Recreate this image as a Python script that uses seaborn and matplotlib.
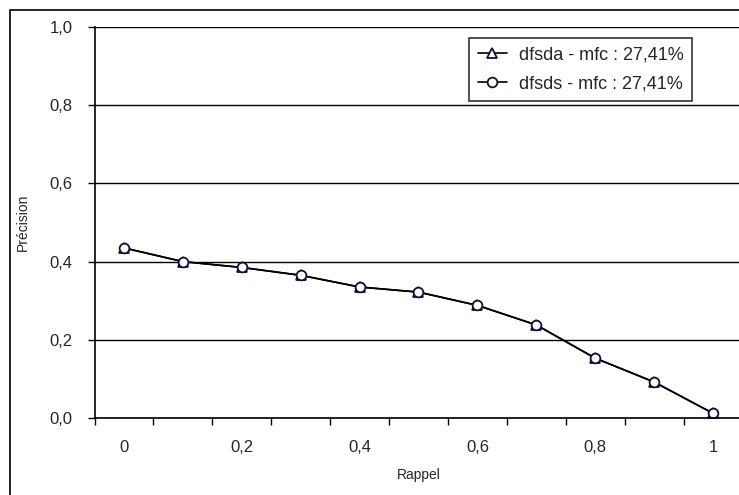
import matplotlib
matplotlib.use("Agg")
import matplotlib.pyplot as plt
import seaborn as sns
import pandas as pd
from matplotlib.patches import Rectangle
from matplotlib.ticker import FuncFormatter, FixedLocator

# Data
rappel = [0.0, 0.1, 0.2, 0.3, 0.4, 0.5, 0.6, 0.7, 0.8, 0.9, 1.0]
precision_dfsda = [0.435, 0.40, 0.385, 0.365, 0.335, 0.322, 0.288, 0.238, 0.153, 0.092, 0.012]
precision_dfsds = [0.435, 0.40, 0.385, 0.365, 0.335, 0.322, 0.288, 0.238, 0.153, 0.092, 0.012]
series_names = ["dfsda - mfc : 27,41%", "dfsds - mfc : 27,41%"]

df = pd.concat([
    pd.DataFrame({"Rappel": rappel, "Précision": precision_dfsda, "serie": series_names[0]}),
    pd.DataFrame({"Rappel": rappel, "Précision": precision_dfsds, "serie": series_names[1]}),
])

sns.set_style("white")
plt.rcParams['font.family'] = ['Liberation Sans', 'DejaVu Sans']

W, H = 739, 495
fig = plt.figure(figsize=(W / 100, H / 100), dpi=100)
fig.patches.append(Rectangle((10 / W, -0.05), 1.2, 1 - 10 / H + 0.05, transform=fig.transFigure,
                             fill=False, edgecolor='black', linewidth=1.2))
ax = fig.add_axes([94.5 / W, 1 - 418 / H, 648 / W, 391 / H])

sns.lineplot(data=df, x="Rappel", y="Précision", hue="serie", style="serie",
             markers={series_names[0]: '^', series_names[1]: 'o'}, dashes=False,
             palette={series_names[0]: 'black', series_names[1]: 'black'},
             markersize=7, markerfacecolor='white', markeredgecolor='#101040',
             markeredgewidth=1.3, linewidth=1.2, ax=ax)

ax.set_xlim(-0.05, 1.05)
ax.set_ylim(0, 1.0)

# category-style ticks between points, labels every other point
ax.xaxis.set_major_locator(FixedLocator([-0.05 + 0.1 * i for i in range(12)]))
ax.xaxis.set_major_formatter(FuncFormatter(lambda v, p: ""))
ax.xaxis.set_minor_locator(FixedLocator(rappel[::2]))
ax.xaxis.set_minor_formatter(FuncFormatter(lambda v, p: f"{v:g}".replace(".", ",")))
ax.tick_params(axis='x', which='major', direction='out', length=5, width=1, color='black', bottom=True)
ax.tick_params(axis='x', which='minor', length=0, pad=16, labelsize=12, bottom=True)

ax.set_yticks([0, 0.2, 0.4, 0.6, 0.8, 1.0])
ax.yaxis.set_major_formatter(FuncFormatter(lambda v, p: f"{v:.1f}".replace(".", ",")))
ax.tick_params(axis='y', direction='out', length=5, width=1, color='black', left=True,
               labelsize=12, pad=11)

ax.grid(axis='y', color='black', linewidth=1)
for s in ['top', 'right']:
    ax.spines[s].set_visible(False)
for s in ['left', 'bottom']:
    ax.spines[s].set_color('black')
    ax.spines[s].set_linewidth(1.2)

ax.set_xlabel("Rappel", fontsize=10, labelpad=9)
ax.set_ylabel("Précision", fontsize=10, labelpad=14)

leg = ax.legend(loc='upper left', bbox_to_anchor=(375 / 648, 1 - 11 / 391), frameon=True,
                fancybox=False, edgecolor='black', fontsize=13, handlelength=1.6,
                handletextpad=0.7, borderpad=0.45, labelspacing=0.7, borderaxespad=0)
leg.get_frame().set_linewidth(1.2)
for h in leg.legend_handles:
    h.set_markerfacecolor('white')
    h.set_markeredgecolor('#101040')

fig.savefig("out.png", dpi=100)
